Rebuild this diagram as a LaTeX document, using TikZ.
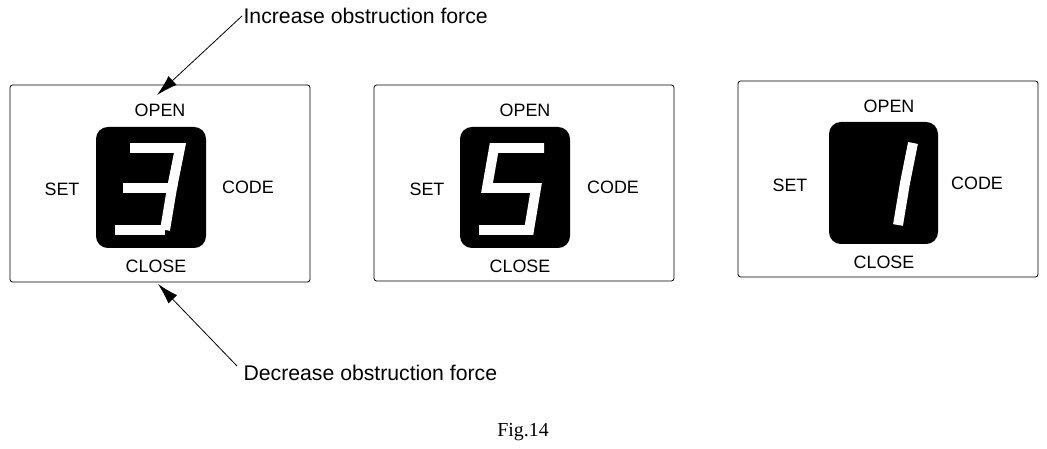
\documentclass[tikz,border=0pt]{standalone}
\usepackage{fontspec}
\setmainfont{Liberation Sans}
\newfontfamily\figfont{Liberation Serif}
\usetikzlibrary{positioning,arrows.meta}
\begin{document}
\begin{tikzpicture}[x=0.0265cm,y=-0.0265cm,
            panel/.style={draw=black, line width=0.6pt, rounded corners=2pt},
            display/.style={fill=black, rounded corners=9pt},
            seg/.style={draw=white, line width=7.5pt, line join=miter},
            lbl/.style={font=\fontsize{13.5}{16}\selectfont, inner sep=1pt},
            note/.style={font=\fontsize{16}{19}\selectfont, anchor=west, inner sep=1pt},
            pointer/.style={-{Latex[length=16pt,width=9pt]}, line width=0.6pt},
        ]
        \useasboundingbox (0,0) rectangle (1047,449);

        % panel 1
        \draw[panel] (10,85) rectangle (310,282);
        \fill[display] (96,127) rectangle (206,248);
        \begin{scope}[shift={(96,127)}]
            \draw[seg] (34,21) -- (84,21) -- (76,61);
            \draw[seg] (27,61) -- (76,61) -- (69,103);
            \draw[seg] (19,103) -- (69,103);
        \end{scope}
        \node[lbl] (open1) at (160,110) {OPEN};
        \node[lbl] (set1) at (62,189) {SET};
        \node[lbl] (code1) at (248,187) {CODE};
        \node[lbl] (close1) at (156,266) {CLOSE};

        % panel 2
        \draw[panel] (374,85) rectangle (674,281);
        \fill[display] (460,127) rectangle (570,248);
        \begin{scope}[shift={(460,127)}]
            \draw[seg] (84,21) -- (34,21) -- (27,61) -- (76,61) -- (69,103) -- (19,103);
        \end{scope}
        \node[lbl] (open2) at (525,110) {OPEN};
        \node[lbl] (set2) at (427,189) {SET};
        \node[lbl] (code2) at (613,187) {CODE};
        \node[lbl] (close2) at (520,266) {CLOSE};

        % panel 3
        \draw[panel] (738,81) rectangle (1038,277);
        \fill[display] (829,122) rectangle (938,244);
        \begin{scope}[shift={(829,122)}]
            \draw[seg] (84,21) -- (76,61) -- (69,103);
        \end{scope}
        \node[lbl] (open3) at (889,106) {OPEN};
        \node[lbl] (set3) at (790,185) {SET};
        \node[lbl] (code3) at (977,183) {CODE};
        \node[lbl] (close3) at (884,262) {CLOSE};

        % notes
        \node[note] (incr) at (242,16) {Increase obstruction force};
        \node[note] (decr) at (242,373) {Decrease obstruction force};
        \coordinate (tipup) at (157,95);
        \coordinate (tipdown) at (158,284);
        \coordinate (decrstart) at (237,366);
        \draw[pointer] (incr.west) -- (tipup);
        \draw[pointer] (decrstart) -- (tipdown);

        \node[font=\figfont\fontsize{15}{18}\selectfont] (fig) at (523,432) {Fig.14};
    \end{tikzpicture}
\end{document}
